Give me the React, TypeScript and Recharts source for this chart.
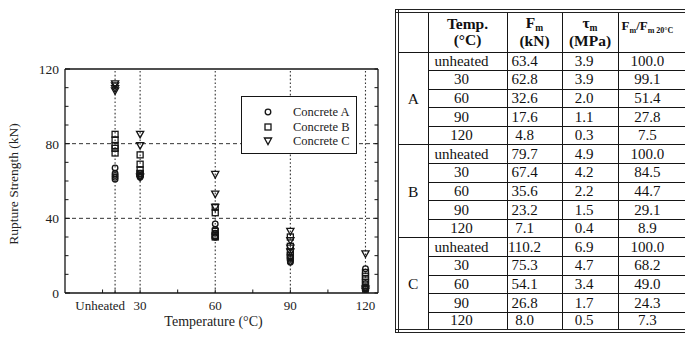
import React from 'react';
import { ScatterChart, Scatter, XAxis, YAxis, ReferenceLine, Legend, Label } from 'recharts';

// ---------- chart data ----------
const tempPositions = [20, 30, 60, 90, 120];
const tempLabels = ['Unheated', '30', '60', '90', '120'];
const xMinorTicks = [15, 45, 75, 105];
const yTicks = [0, 10, 20, 30, 40, 50, 60, 70, 80, 90, 100, 110, 120];
const yLabelTicks = [0, 40, 80, 120];
const gridY = [40, 80];
const seriesNames = ['Concrete A', 'Concrete B', 'Concrete C'];

const concreteA = [
  [67, 64, 62, 61, 63],
  [64, 63, 62.5, 62, 62.5],
  [37, 34, 32, 30, 30],
  [19, 18, 17, 16.5],
  [13, 5, 3, 2, 1],
];
const concreteB = [
  [85, 82, 79, 75, 77.5],
  [74, 69, 66, 64, 64],
  [46, 43, 33, 31, 30, 30.6],
  [30, 25, 22, 20, 19],
  [11, 9, 7, 5.5, 3],
];
const concreteC = [
  [112, 111, 109.5, 108.3],
  [85, 79, 62],
  [63.5, 53, 45.8],
  [33, 28, 24, 22],
  [21, 2, 1],
];

// ---------- table data ----------
const tableGroups = ['A', 'B', 'C'];
const tableTemps = ['unheated', '30', '60', '90', '120'];
const fmA = [63.4, 62.8, 32.6, 17.6, 4.8];
const fmB = [79.7, 67.4, 35.6, 23.2, 7.1];
const fmC = [110.2, 75.3, 54.1, 26.8, 8.0];
const tauA = [3.9, 3.9, 2.0, 1.1, 0.3];
const tauB = [4.9, 4.2, 2.2, 1.5, 0.4];
const tauC = [6.9, 4.7, 3.4, 1.7, 0.5];
const ratioA = [100.0, 99.1, 51.4, 27.8, 7.5];
const ratioB = [100.0, 84.5, 44.7, 29.1, 8.9];
const ratioC = [100.0, 68.2, 49.0, 24.3, 7.3];

const SERIF = '"Liberation Serif", "DejaVu Serif", serif';
const INK = '#151515';

const toPoints = (vals: number[][]) =>
  tempPositions.flatMap((t, i) => vals[i].map((v) => ({ x: t, y: v })));

const dataA = toPoints(concreteA);
const dataB = toPoints(concreteB);
const dataC = toPoints(concreteC);

const CircleMark = (p: any) => (
  <circle cx={p.cx} cy={p.cy} r={2.8} fill="none" stroke={INK} strokeWidth={1.3} />
);
const SquareMark = (p: any) => (
  <rect x={p.cx - 3} y={p.cy - 3} width={6} height={6} fill="none" stroke={INK} strokeWidth={1.3} />
);
const TriMark = (p: any) => (
  <polygon
    points={`${p.cx - 3.6},${p.cy - 3} ${p.cx + 3.6},${p.cy - 3} ${p.cx},${p.cy + 3.6}`}
    fill="none"
    stroke={INK}
    strokeWidth={1.3}
  />
);

const LeftTick = (props: any) => {
  const { x, y, payload } = props;
  const v = payload.value;
  const major = yLabelTicks.includes(v);
  return (
    <g>
      <line x1={x} y1={y} x2={x + (major ? 5 : 3.5)} y2={y} stroke={INK} strokeWidth={1} />
      {major && (
        <text x={x - 6} y={y} dy="0.36em" textAnchor="end" fontSize={13.5} fontFamily={SERIF} fill="#222">
          {v}
        </text>
      )}
    </g>
  );
};
const RightTick = (props: any) => {
  const { x, y } = props;
  return <line x1={x - 3.5} y1={y} x2={x} y2={y} stroke={INK} strokeWidth={1} />;
};
const BottomTick = (props: any) => {
  const { x, y, payload } = props;
  const v = payload.value;
  const idx = tempPositions.indexOf(v);
  return (
    <g>
      <line x1={x} y1={y} x2={x} y2={y - 3.5} stroke={INK} strokeWidth={1} />
      {idx >= 0 && (
        <text
          x={idx === 0 ? x + 10 : x}
          y={y + 8}
          dy="0.71em"
          textAnchor={idx === 0 ? 'end' : 'middle'}
          fontSize={13}
          fontFamily={SERIF}
          fill="#222"
        >
          {tempLabels[idx]}
        </text>
      )}
    </g>
  );
};
const TopTick = (props: any) => {
  const { x, y } = props;
  return <line x1={x} y1={y} x2={x} y2={y + 3.5} stroke={INK} strokeWidth={1} />;
};

const LegendBox = () => {
  const shapes = [CircleMark, SquareMark, TriMark];
  return (
    <div
      style={{
        width: 116,
        height: 58,
        boxSizing: 'border-box',
        border: `1.3px solid ${INK}`,
        background: '#fff',
        position: 'relative',
      }}
    >
      {seriesNames.map((n, i) => {
        const Shape = shapes[i];
        return (
          <div key={n} style={{ position: 'absolute', left: 0, top: 7 + i * 14.5, height: 16, width: 114 }}>
            <svg width={40} height={16} style={{ position: 'absolute', left: 0, top: 0 }}>
              <Shape cx={26} cy={8} />
            </svg>
            <span
              style={{
                position: 'absolute',
                left: 51,
                top: 0,
                lineHeight: '16px',
                fontSize: 12.5,
                fontFamily: SERIF,
                color: '#222',
                whiteSpace: 'nowrap',
              }}
            >
              {n}
            </span>
          </div>
        );
      })}
    </div>
  );
};

const xTicksAll = [...xMinorTicks, ...tempPositions].sort((a, b) => a - b);

const Chart = () => (
  <ScatterChart width={395} height={338} margin={{ top: 68, right: 16, bottom: 0, left: 5 }}>
    <XAxis
      type="number"
      dataKey="x"
      domain={[0, 125]}
      ticks={xTicksAll}
      interval={0}
      allowDataOverflow
      height={45}
      tickSize={0}
      tickMargin={0}
      tickLine={false}
      axisLine={{ stroke: INK, strokeWidth: 1.3 }}
      tick={<BottomTick />}
    >
      <Label
        content={(p: any) => {
          const vb = p.viewBox || { x: 65, y: 293, width: 313 };
          return (
            <text x={vb.x + vb.width / 2 - 8} y={vb.y + 33} textAnchor="middle" fontSize={14} fontFamily={SERIF} fill="#222">
              Temperature (°C)
            </text>
          );
        }}
      />
    </XAxis>
    <XAxis
      xAxisId="top"
      orientation="top"
      type="number"
      domain={[0, 125]}
      ticks={xTicksAll}
      interval={0}
      allowDataOverflow
      height={1}
      tickSize={0}
      tickMargin={0}
      tickLine={false}
      axisLine={{ stroke: INK, strokeWidth: 1.3 }}
      tick={<TopTick />}
    />
    <YAxis
      type="number"
      dataKey="y"
      domain={[0, 120]}
      ticks={yTicks}
      interval={0}
      allowDataOverflow
      width={60}
      tickSize={0}
      tickMargin={0}
      tickLine={false}
      axisLine={{ stroke: INK, strokeWidth: 1.3 }}
      tick={<LeftTick />}
    >
      <Label
        content={(p: any) => {
          const vb = p.viewBox || { x: 5, y: 69, height: 224 };
          const cx = vb.x + 13;
          const cy = vb.y + vb.height / 2 + 3;
          return (
            <text
              x={cx}
              y={cy}
              transform={`rotate(-90 ${cx} ${cy})`}
              textAnchor="middle"
              fontSize={13.5}
              fontFamily={SERIF}
              fill="#222"
            >
              Rupture Strength (kN)
            </text>
          );
        }}
      />
    </YAxis>
    <YAxis
      yAxisId="right"
      orientation="right"
      type="number"
      domain={[0, 120]}
      ticks={yTicks}
      interval={0}
      allowDataOverflow
      width={1}
      tickSize={0}
      tickMargin={0}
      tickLine={false}
      axisLine={{ stroke: INK, strokeWidth: 1.3 }}
      tick={<RightTick />}
    />
    {gridY.map((v) => (
      <ReferenceLine key={`gy${v}`} y={v} stroke="#333" strokeWidth={1} strokeDasharray="4 3" />
    ))}
    {tempPositions.map((v) => (
      <ReferenceLine key={`gx${v}`} x={v} stroke="#333" strokeWidth={1.1} strokeDasharray="1.6 2.2" />
    ))}
    <Scatter name={seriesNames[0]} data={dataA} shape={<CircleMark />} isAnimationActive={false} />
    <Scatter name={seriesNames[1]} data={dataB} shape={<SquareMark />} isAnimationActive={false} />
    <Scatter name={seriesNames[2]} data={dataC} shape={<TriMark />} isAnimationActive={false} />
    <Legend
      layout="vertical"
      align="center"
      verticalAlign="middle"
      wrapperStyle={{ position: 'absolute', left: 241, top: 96, width: 116, height: 58 }}
      content={() => <LegendBox />}
    />
  </ScatterChart>
);

// ---------- table ----------
const colWidths = [31, 79, 55, 56, 110];
const fmAll = [fmA, fmB, fmC];
const tauAll = [tauA, tauB, tauC];
const ratioAll = [ratioA, ratioB, ratioC];

const td: React.CSSProperties = {
  border: `1.5px solid ${INK}`,
  padding: 0,
  fontFamily: SERIF,
  fontSize: 15,
  lineHeight: '15px',
  color: '#111',
  textAlign: 'center',
  whiteSpace: 'nowrap',
  overflow: 'hidden',
};
const th: React.CSSProperties = {
  ...td,
  fontWeight: 'bold',
  fontSize: 15.5,
  lineHeight: '16.5px',
  verticalAlign: 'middle',
};
const sub: React.CSSProperties = { fontSize: 9.5, position: 'relative', top: 3 };

const DataTable = () => (
  <div style={{ position: 'absolute', left: 395, top: 9 }}>
    <table
      style={{
        borderCollapse: 'collapse',
        tableLayout: 'fixed',
        width: colWidths.reduce((a, b) => a + b, 0),
        border: '4px double #222',
      }}
    >
      <colgroup>
        {colWidths.map((w, i) => (
          <col key={i} style={{ width: w }} />
        ))}
      </colgroup>
      <thead>
        <tr style={{ height: 41 }}>
          <th style={th}></th>
          <th style={th}>
            Temp.
            <br />
            (°C)
          </th>
          <th style={th}>
            F<span style={sub}>m</span>
            <br />
            (kN)
          </th>
          <th style={th}>
            τ<span style={sub}>m</span>
            <br />
            (MPa)
          </th>
          <th style={{ ...th, fontSize: 13, verticalAlign: 'top', textAlign: 'left', paddingLeft: 3, paddingTop: 5 }}>
            F<span style={{ ...sub, fontSize: 8 }}>m</span>/F<span style={{ ...sub, fontSize: 8 }}>m 20°C</span>
          </th>
        </tr>
      </thead>
      <tbody>
        {tableGroups.map((g, gi) =>
          tableTemps.map((t, ti) => (
            <tr key={`${g}${t}`} style={{ height: 18.6 }}>
              {ti === 0 && (
                <td rowSpan={5} style={{ ...td, fontSize: 15.5 }}>
                  {g}
                </td>
              )}
              <td style={{ ...td, paddingRight: 12 }}>{t}</td>
              <td style={{ ...td, paddingRight: 20 }}>{fmAll[gi][ti].toFixed(1)}</td>
              <td style={{ ...td, paddingRight: 12 }}>{tauAll[gi][ti].toFixed(1)}</td>
              <td style={{ ...td, paddingRight: 50 }}>{ratioAll[gi][ti].toFixed(1)}</td>
            </tr>
          ))
        )}
      </tbody>
    </table>
  </div>
);

export default function App() {
  return (
    <div
      style={{
        position: 'absolute',
        left: 0,
        top: 0,
        width: 685,
        height: 338,
        overflow: 'hidden',
        background: '#fff',
      }}
    >
      <div style={{ position: 'absolute', left: 0, top: 0 }}>
        <Chart />
      </div>
      <DataTable />
    </div>
  );
}
